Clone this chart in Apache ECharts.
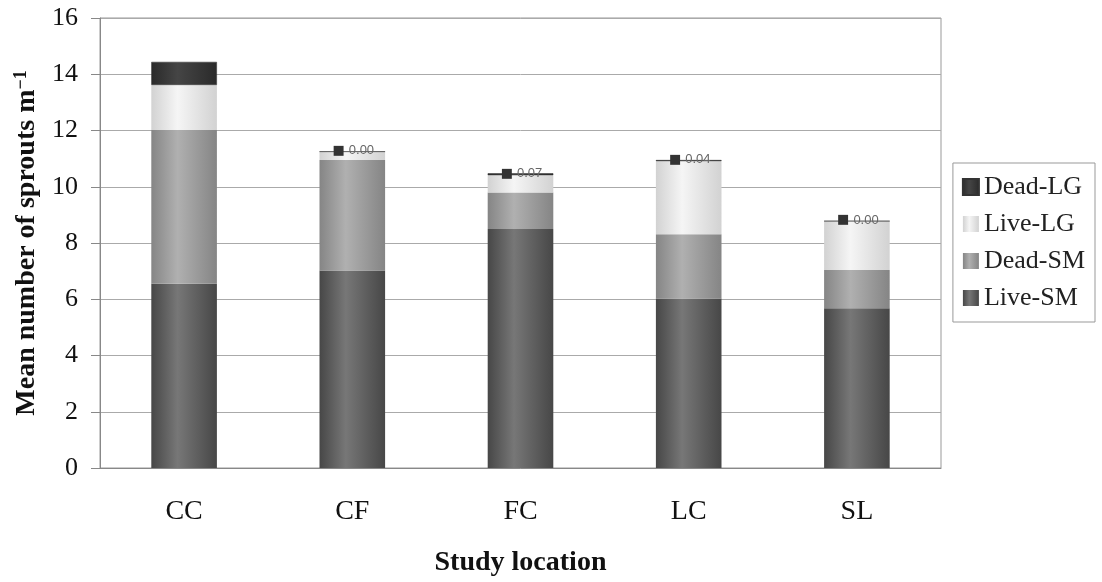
<!DOCTYPE html>
<html><head><meta charset="utf-8">
<script src="https://cdn.jsdelivr.net/npm/echarts@6/dist/echarts.min.js"></script>
<style>html,body{margin:0;padding:0;background:#fff}#c{width:1102px;height:582px}</style>
</head><body><div id="c"></div>
<script>
var categories = ['CC','CF','FC','LC','SL'];
var liveSM = [6.55, 7.02, 8.50, 6.03, 5.68];
var deadSM = [5.47, 3.93, 1.30, 2.28, 1.36];
var liveLG = [1.60, 0.30, 0.61, 2.60, 1.74];
var deadLG = [0.82, 0.00, 0.07, 0.04, 0.00];
var deadLGLabels = [null, '0.00', '0.07', '0.04', '0.00'];

function grad(edge, mid){
  return {type:'linear',x:0,y:0,x2:1,y2:0,colorStops:[
    {offset:0,color:edge},{offset:0.4,color:mid},{offset:1,color:edge}]};
}
var chart = echarts.init(document.getElementById('c'));
var serif = 'Liberation Serif';
chart.setOption({
  animation:false,
  backgroundColor:'#fff',
  grid:{left:100,right:161,top:18,bottom:114,show:true,borderColor:'#999',borderWidth:1},
  legend:{
    orient:'vertical', right:7, top:163, itemWidth:16, itemHeight:16, itemGap:11, icon:'rect',
    padding:[11,10,11,9], borderColor:'#999', borderWidth:1,
    textStyle:{fontFamily:serif,fontSize:26,color:'#222'},
    data:['Dead-LG','Live-LG','Dead-SM','Live-SM']
  },
  xAxis:{
    type:'category', data:categories, name:'Study location', nameLocation:'middle', nameGap:81,
    nameTextStyle:{fontFamily:serif,fontSize:28,fontWeight:'bold',color:'#111'},
    axisLine:{lineStyle:{color:'#888'}}, axisTick:{length:8,lineStyle:{color:'#888'}},
    axisLabel:{fontFamily:serif,fontSize:28,color:'#111',margin:30}
  },
  yAxis:{
    type:'value', min:0, max:16, interval:2,
    name:'{a|Mean number of sprouts m}{b|\u22121}', nameLocation:'middle', nameGap:58,
    nameTextStyle:{fontFamily:serif,fontSize:28,fontWeight:'bold',color:'#111',
      rich:{a:{fontFamily:serif,fontSize:28,fontWeight:'bold',color:'#111'},
            b:{fontFamily:serif,fontSize:18,fontWeight:'bold',color:'#111',verticalAlign:'top',padding:[0,0,12,0]}}},
    axisLine:{show:true,lineStyle:{color:'#888'}}, axisTick:{show:true,length:9,lineStyle:{color:'#888'}},
    axisLabel:{fontFamily:serif,fontSize:26,color:'#111',margin:22},
    splitLine:{lineStyle:{color:'#aaa'}}
  },
  series:[
    {name:'Live-SM',type:'bar',stack:'a',barWidth:'39%',data:liveSM,
     itemStyle:{color:grad('#474747','#777777')}},
    {name:'Dead-SM',type:'bar',stack:'a',data:deadSM,
     itemStyle:{color:grad('#858585','#b0b0b0')}},
    {name:'Live-LG',type:'bar',stack:'a',data:liveLG,
     itemStyle:{color:grad('#d2d2d2','#f5f5f5')}},
    {name:'Dead-LG',type:'bar',stack:'a',
     data:deadLG.map(function(v,i){
       return {value:v,label:{show:deadLGLabels[i]!==null,formatter:'{s|■}{t|'+deadLGLabels[i]+'}'}};
     }),
     itemStyle:{color:grad('#2a2a2a','#454545'),borderColor:'#333',borderWidth:0.5},
     label:{position:'inside',offset:[1,-1],
       rich:{s:{color:'#333',fontSize:13,fontFamily:'DejaVu Sans',padding:[0,4,0,0]},t:{color:'#666',fontSize:13,fontFamily:'Liberation Sans'}}}
    }
  ]
});
</script></body></html>
